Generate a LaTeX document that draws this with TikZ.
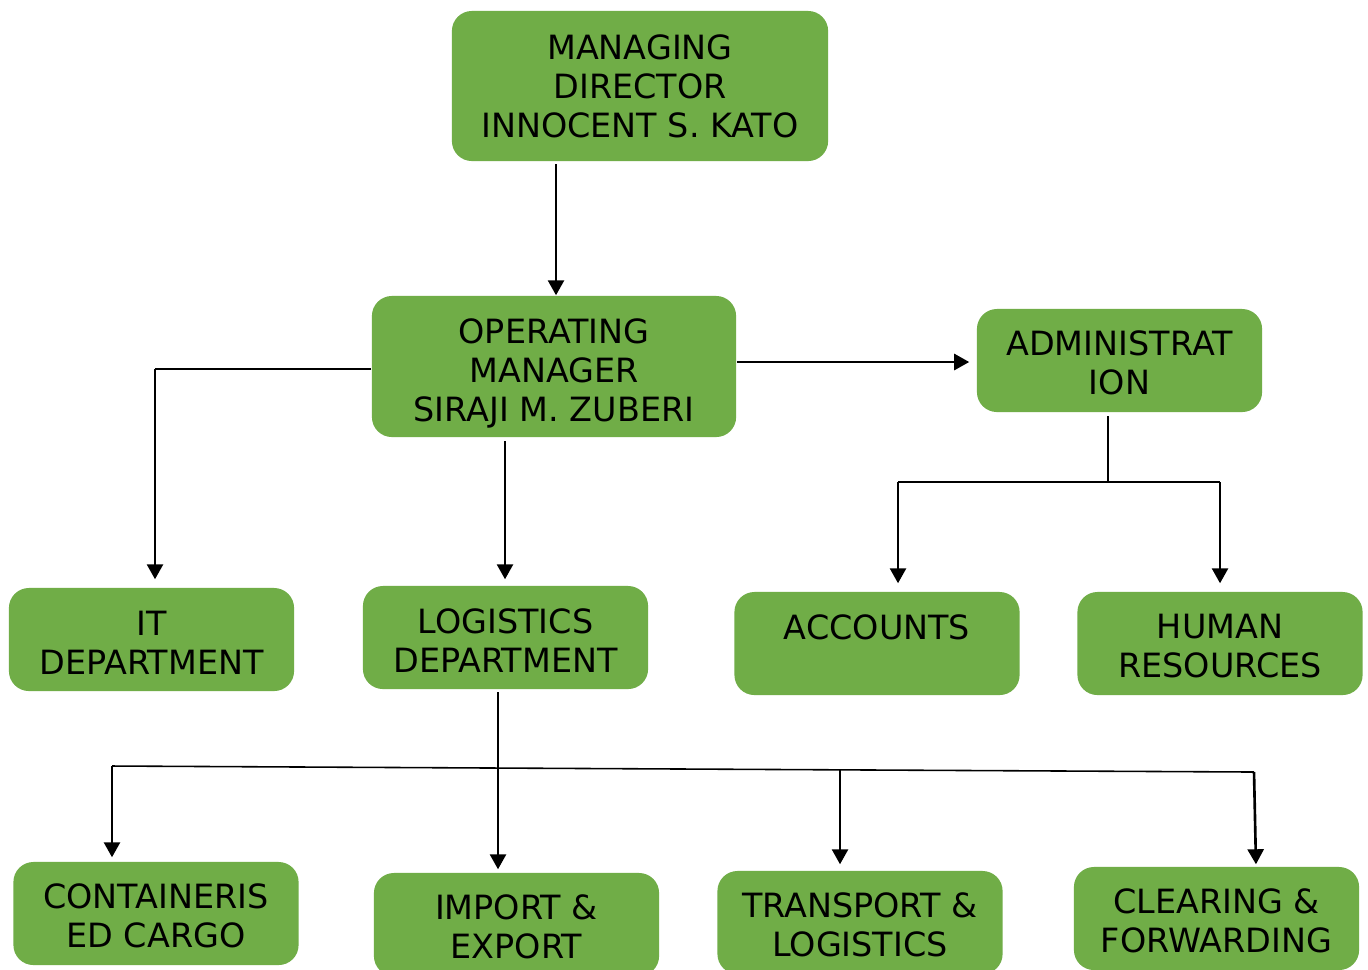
\documentclass[tikz,border=0pt]{standalone}
\usepackage{fontspec}
\setmainfont{DejaVu Sans}
\usetikzlibrary{arrows.meta}
\definecolor{boxgreen}{HTML}{70AD47}
\newcommand\toprule[1][8.6pt]{\rule{0pt}{#1}}
\tikzset{
  unit/.style={rectangle, rounded corners=0.2cm, fill=boxgreen, inner sep=0pt,
    minimum width=2.85cm, minimum height=1.03cm, align=center,
    font=\fontsize{9.5}{11.1}\selectfont},
  arr/.style={line width=0.75pt, -{Triangle[width=0.16cm,length=0.15cm]}},
  link/.style={line width=0.45pt}
}
\begin{document}
\begin{tikzpicture}[x=0.01cm,y=-0.01cm]
  \clip (0,0) rectangle (1368,969);
  \fill[white] (0,0) rectangle (1368,969);
  % top of the chart
  \node[unit, minimum width=3.76cm, minimum height=1.50cm] (md) at (640,86)
    {MANAGING\\DIRECTOR\\INNOCENT S. KATO};
  \node[unit, minimum width=3.64cm, minimum height=1.41cm] (om) at (554,366.5)
    {\toprule[11pt]OPERATING\\MANAGER\\SIRAJI M. ZUBERI};
  \node[unit] (admin) at (1119.5,360.5) {\toprule ADMINISTRAT\\ION};
  % departments
  \node[unit] (it) at (151.5,639.5) {\toprule IT\\DEPARTMENT};
  \node[unit] (log) at (505.5,637.5) {\toprule LOGISTICS\\DEPARTMENT};
  \node[unit] (acc) at (877,643.5) {\toprule ACCOUNTS\\\mbox{}};
  \node[unit] (hr) at (1220,643.5) {\toprule HUMAN\\RESOURCES};
  % logistics sections
  \node[unit] (cont) at (156,913.5) {\toprule CONTAINERIS\\ED CARGO};
  \node[unit] (imp) at (516.5,924.5) {\toprule IMPORT \&\\EXPORT};
  \node[unit] (trans) at (860,922.5) {\toprule TRANSPORT \&\\LOGISTICS};
  \node[unit] (clear) at (1216.5,918.5) {\toprule CLEARING \&\\FORWARDING};
  % joints
  \coordinate (mdout) at (556,164);
  \coordinate (itknee) at (155,369);
  \coordinate (logout) at (505,441);
  \coordinate (adminout) at (1108,416);
  \coordinate (adminjoint) at (1108,482);
  \coordinate (accknee) at (898,482);
  \coordinate (hrknee) at (1220,482);
  \coordinate (logjoint) at (498,692);
  \coordinate (contknee) at (112,766);
  \coordinate (transknee) at (840,770);
  \coordinate (clearknee) at (1254,772);
  % connectors
  \draw[arr] (mdout) -- (mdout |- om.north);
  \draw[arr, shorten >=0.07cm] (om.east |- 0,362) -- (admin.west |- 0,362);
  \draw[link] (om.west |- itknee) -- (itknee);
  \draw[arr, shorten >=0.08cm] (itknee) -- (itknee |- it.north);
  \draw[arr, shorten >=0.06cm] (logout) -- (logout |- log.north);
  \draw[link] (adminout) -- (adminjoint);
  \draw[link] (accknee) -- (hrknee);
  \draw[arr, shorten >=0.08cm] (accknee) -- (accknee |- acc.north);
  \draw[arr, shorten >=0.08cm] (hrknee) -- (hrknee |- hr.north);
  \draw[arr, shorten >=0.03cm] (logjoint) -- (logjoint |- imp.north);
  \draw[link] (contknee) -- (clearknee);
  \draw[arr, shorten >=0.04cm] (contknee) -- (contknee |- cont.north);
  \draw[arr, shorten >=0.06cm] (transknee) -- (transknee |- trans.north);
  \draw[arr, shorten >=0.02cm] (clearknee) -- (1256,0 |- clear.north);
\end{tikzpicture}
\end{document}
